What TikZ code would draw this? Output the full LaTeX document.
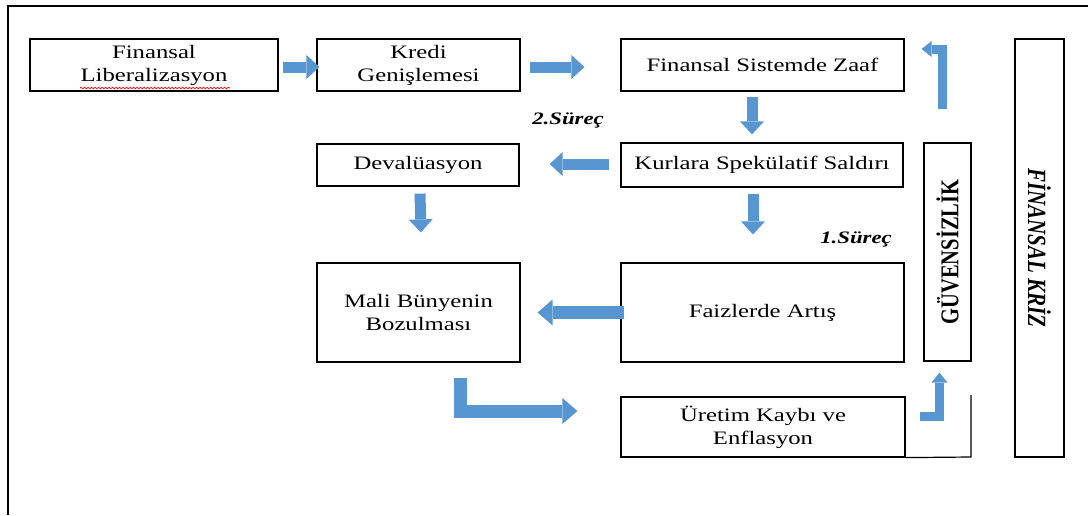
\documentclass[tikz,border=0pt]{standalone}
\usepackage{fontspec}
\setmainfont{Liberation Serif}[FakeStretch=1.3]
\newfontfamily\krizFont{Liberation Serif}
\usetikzlibrary{arrows.meta,decorations.pathmorphing}
\definecolor{arrowBlue}{RGB}{88,150,210}
\tikzset{
  krizBox/.style={draw, line width=1.2pt, inner sep=0pt, align=center, font=\fontsize{19}{23}\selectfont},
  blockArrow/.style={draw=arrowBlue, line width=11pt, line join=miter, -{Triangle[length=13pt,width=24pt,line width=0pt]}},
  bigArrow/.style={draw=arrowBlue, line width=13pt, line join=miter, -{Triangle[length=15pt,width=26pt,line width=0pt]}},
  thinArrow/.style={draw=arrowBlue, line width=9pt, line join=miter, -{Triangle[length=10pt,width=16pt,line width=0pt]}},
  surecLabel/.style={font=\fontsize{17.5}{20}\selectfont\bfseries\itshape}
}
\begin{document}
\begin{tikzpicture}[x=1pt,y=-1pt]
\useasboundingbox (0,0) rectangle (1088,515);
\draw[line width=1.2pt] (1088,6) -- (8,6) -- (8,515);
\node[krizBox, minimum width=248pt, minimum height=52pt] (lib) at (154,65) {Finansal\\Liberalizasyon};
\node[krizBox, minimum width=203pt, minimum height=52pt] (kredi) at (418.5,65) {Kredi\\Genişlemesi};
\node[krizBox, minimum width=283pt, minimum height=52pt] (zaaf) at (762.5,65) {Finansal Sistemde Zaaf};
\node[krizBox, minimum width=282pt, minimum height=44pt] (kurlar) at (762,165) {Kurlara Spekülatif Saldırı};
\node[krizBox, minimum width=202pt, minimum height=42pt] (deval) at (418,165) {Devalüasyon};
\node[krizBox, minimum width=203pt, minimum height=99pt] (mali) at (418.5,312.5) {Mali Bünyenin\\Bozulması};
\node[krizBox, minimum width=283pt, minimum height=99pt] (faiz) at (762.5,312.5) {Faizlerde Artış};
\node[krizBox, minimum width=284pt, minimum height=60pt] (uretim) at (763,427) {Üretim Kaybı ve\\Enflasyon};
\node[krizBox, minimum width=218pt, minimum height=47pt, rotate=90, font=\krizFont\fontsize{20.5}{24}\selectfont\bfseries] (guven) at (947.5,252) {\scalebox{1}[1.25]{GÜVENSİZLİK}};
\node[krizBox, minimum width=418pt, minimum height=49pt, rotate=-90, font=\krizFont\fontsize{21}{24}\selectfont\bfseries\itshape] (kriz) at (1039.5,248) {\scalebox{1}[1.25]{FİNANSAL KRİZ}};
\coordinate (kose) at (971,457);
\draw[line width=1.2pt] (uretim.south east) -- (kose) -- (971,395);
\draw[red, line width=0.7pt, decorate, decoration={snake, amplitude=0.8pt, segment length=3.5pt}] (80,88) -- (230,88);
\node[surecLabel] (surecIki) at (568,120) {2.Süreç};
\node[surecLabel] (surecBir) at (856,239) {1.Süreç};
\draw[blockArrow] ([xshift=4pt,yshift=-2pt]lib.east) -- ([xshift=3pt,yshift=-2pt]kredi.west);
\draw[blockArrow] ([xshift=9pt,yshift=-2pt]kredi.east) -- ([xshift=-36pt,yshift=-2pt]zaaf.west);
\draw[blockArrow] ([xshift=-10.5pt,yshift=-5pt]zaaf.south) -- ([xshift=-10pt,yshift=8pt]kurlar.north);
\draw[blockArrow] ([xshift=-11pt,yshift=1pt]kurlar.west) -- ([xshift=30pt,yshift=1pt]deval.east);
\draw[blockArrow] ([xshift=-9pt,yshift=-6pt]kurlar.south) -- ([xshift=-9.5pt,yshift=28pt]faiz.north);
\draw[blockArrow] ([xshift=2pt,yshift=-7pt]deval.south) -- ([xshift=2.5pt,yshift=30pt]mali.north);
\draw[bigArrow] ([xshift=4pt]faiz.west) -- ([xshift=17pt]mali.east);
\draw[bigArrow] ([xshift=41.5pt,yshift=-15pt]mali.south) |- ([xshift=-43pt,yshift=16pt]uretim.west);
\draw[thinArrow] ([xshift=14pt,yshift=11pt]uretim.east) -| ([xshift=-8pt,yshift=-11pt]guven.west);
\draw[thinArrow] ([xshift=-5pt,yshift=33pt]guven.east) |- ([xshift=17pt,yshift=16pt]zaaf.east);
\end{tikzpicture}
\end{document}
